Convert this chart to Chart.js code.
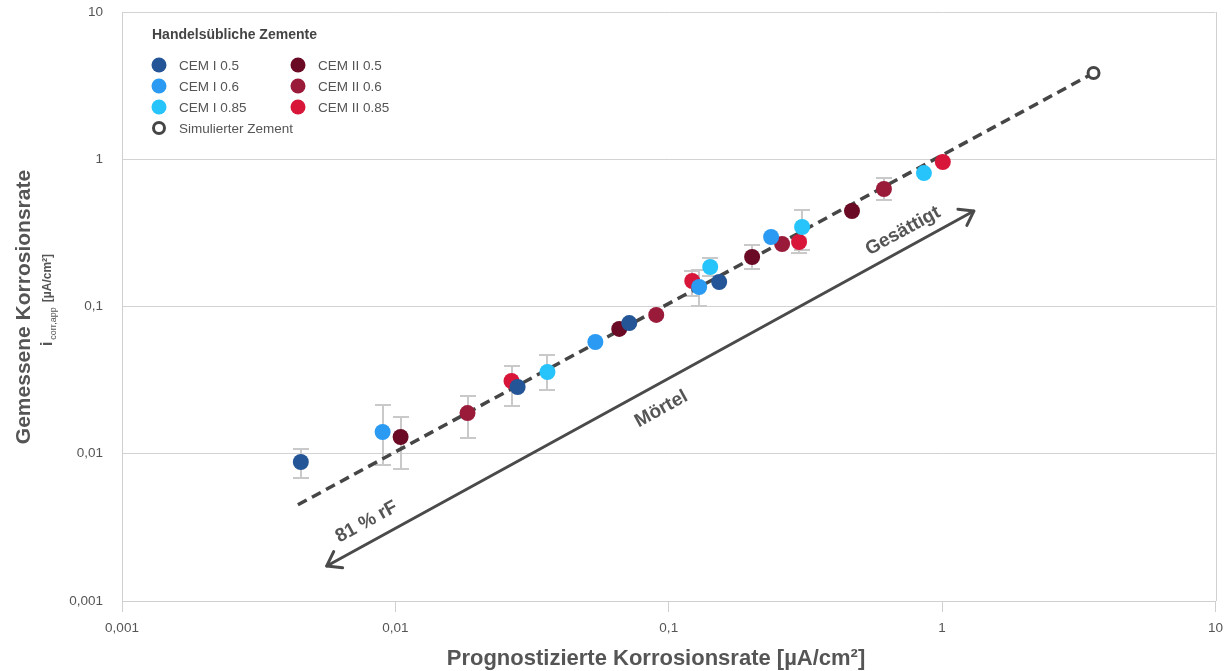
<!DOCTYPE html>
<html><head><meta charset="utf-8">
<script src="https://cdn.jsdelivr.net/npm/chart.js@4/dist/chart.umd.min.js"></script>
<style>html,body{margin:0;padding:0;background:#fff}#wrap{width:1224px;height:671px}</style>
</head><body><div id="wrap"><canvas id="c" width="1224" height="671"></canvas></div>
<script>
// ---------- data ----------
const tickValues = [0.001, 0.01, 0.1, 1, 10];
const tickLabels = ['0,001', '0,01', '0,1', '1', '10'];

const legendTitle = 'Handelsübliche Zemente';
const seriesNames = ['CEM I 0.5', 'CEM I 0.6', 'CEM I 0.85', 'CEM II 0.5', 'CEM II 0.6', 'CEM II 0.85'];
const simulatedName = 'Simulierter Zement';

const cemI05X = [0.00451, 0.0280, 0.0717, 0.1529];
const cemI05Y = [0.00879, 0.0284, 0.0772, 0.1467];
const cemI05Lo = [0.00685, null, null, null];
const cemI05Hi = [0.01077, null, null, null];

const cemI06X = [0.00898, 0.0539, 0.1292, 0.2368];
const cemI06Y = [0.01405, 0.0574, 0.1357, 0.2965];
const cemI06Lo = [0.00839, null, 0.1008, null];
const cemI06Hi = [0.02144, null, 0.1769, null];

const cemI085X = [0.0360, 0.1418, 0.3074, 0.858];
const cemI085Y = [0.0359, 0.1855, 0.3467, 0.806];
const cemI085Lo = [0.0271, 0.1611, 0.2418, null];
const cemI085Hi = [0.0468, 0.2135, 0.452, null];

const cemII05X = [0.01045, 0.0659, 0.2018, 0.468];
const cemII05Y = [0.0130, 0.0704, 0.2169, 0.4453];
const cemII05Lo = [0.00788, null, 0.1798, null];
const cemII05Hi = [0.0178, null, 0.2616, null];

const cemII06X = [0.01836, 0.0900, 0.2598, 0.6126];
const cemII06Y = [0.0189, 0.0876, 0.2657, 0.628];
const cemII06Lo = [0.01279, null, null, 0.5288];
const cemII06Hi = [0.02467, null, null, 0.7459];

const cemII085X = [0.0266, 0.1219, 0.2997, 1.006];
const cemII085Y = [0.0312, 0.149, 0.2742, 0.958];
const cemII085Lo = [0.0211, 0.118, 0.2308, null];
const cemII085Hi = [0.0394, 0.1742, 0.29, null];

const simulatedX = [3.58];
const simulatedY = [3.85];

const trendX = [0.0044, 3.58];
const trendY = [0.0045, 3.85];

// annotation arrow (data coordinates) and labels
const arrowFrom = [0.00561, 0.00173];
const arrowTo = [1.306, 0.445];
const noteTexts = ['81 % rF', 'Mörtel', 'Gesättigt'];
const noteX = [0.00785, 0.0939, 0.719];
const noteY = [0.00344, 0.0201, 0.3256];

const xTitle = 'Prognostizierte Korrosionsrate [µA/cm²]';
const yTitle = 'Gemessene Korrosionsrate';
const yUnitMain = 'i';
const yUnitSub = 'corr,app';
const yUnitTail = '[µA/cm²]';

// ---------- styles ----------
const seriesColors = ['#235597', '#2a9af2', '#27c4fc', '#6a0a24', '#9a1a3a', '#d8163a'];
const FONT = '"Liberation Sans", Arial, Helvetica, sans-serif';
const TXT = '#555555';

const seriesX = [cemI05X, cemI06X, cemI085X, cemII05X, cemII06X, cemII085X];
const seriesY = [cemI05Y, cemI06Y, cemI085Y, cemII05Y, cemII06Y, cemII085Y];
const seriesLo = [cemI05Lo, cemI06Lo, cemI085Lo, cemII05Lo, cemII06Lo, cemII085Lo];
const seriesHi = [cemI05Hi, cemI06Hi, cemI085Hi, cemII05Hi, cemII06Hi, cemII085Hi];

function pts(xs, ys) { return xs.map((x, i) => ({ x: x, y: ys[i] })); }

const datasets = seriesNames.map((n, i) => ({
  type: 'scatter',
  label: n,
  data: pts(seriesX[i], seriesY[i]),
  backgroundColor: seriesColors[i],
  borderWidth: 0,
  pointRadius: 8,
  pointHoverRadius: 8,
  order: 1
}));
datasets.push({
  type: 'line', label: 'trend', data: pts(trendX, trendY),
  borderColor: '#464646', borderWidth: 3.5, borderDash: [10, 6],
  pointRadius: 0, fill: false, order: 10
});
datasets.push({
  type: 'scatter', label: simulatedName, data: pts(simulatedX, simulatedY),
  backgroundColor: '#ffffff', borderColor: '#464646', borderWidth: 3,
  pointRadius: 5.5, order: 0
});

function tickLabelFor(v) {
  const k = tickValues.findIndex(t => Math.abs(Math.log10(t) - Math.log10(v)) < 1e-6);
  return k >= 0 ? tickLabels[k] : '';
}

const errorBars = {
  id: 'errorBars',
  beforeDatasetsDraw(chart) {
    const ctx = chart.ctx, xs = chart.scales.x, ys = chart.scales.y;
    ctx.save();
    ctx.strokeStyle = '#c9c9c9';
    ctx.lineWidth = 2;
    seriesX.forEach((arr, s) => {
      arr.forEach((xv, i) => {
        const lo = seriesLo[s][i], hi = seriesHi[s][i];
        if (lo == null || hi == null) return;
        const px = Math.round(xs.getPixelForValue(xv));
        const p1 = ys.getPixelForValue(lo), p2 = ys.getPixelForValue(hi);
        ctx.beginPath();
        ctx.moveTo(px, p1); ctx.lineTo(px, p2);
        ctx.moveTo(px - 8, p1); ctx.lineTo(px + 8, p1);
        ctx.moveTo(px - 8, p2); ctx.lineTo(px + 8, p2);
        ctx.stroke();
      });
    });
    ctx.restore();
  }
};

const decor = {
  id: 'decor',
  afterDraw(chart) {
    const ctx = chart.ctx, xs = chart.scales.x, ys = chart.scales.y, ca = chart.chartArea;
    ctx.save();
    // right border
    ctx.strokeStyle = '#d0d0d0'; ctx.lineWidth = 1;
    ctx.beginPath(); ctx.moveTo(Math.round(ca.right) + 0.5, ca.top); ctx.lineTo(Math.round(ca.right) + 0.5, ca.bottom); ctx.stroke();

    // arrow
    const ax = xs.getPixelForValue(arrowFrom[0]), ay = ys.getPixelForValue(arrowFrom[1]);
    const bx = xs.getPixelForValue(arrowTo[0]), by = ys.getPixelForValue(arrowTo[1]);
    const ang = Math.atan2(by - ay, bx - ax);
    ctx.strokeStyle = '#4a4a4a'; ctx.lineWidth = 3; ctx.lineCap = 'round'; ctx.lineJoin = 'round';
    ctx.beginPath(); ctx.moveTo(ax, ay); ctx.lineTo(bx, by); ctx.stroke();
    const head = 16, spread = 0.62;
    function chevron(x, y, dir) {
      ctx.beginPath();
      ctx.moveTo(x - head * Math.cos(dir - spread), y - head * Math.sin(dir - spread));
      ctx.lineTo(x, y);
      ctx.lineTo(x - head * Math.cos(dir + spread), y - head * Math.sin(dir + spread));
      ctx.stroke();
    }
    chevron(bx, by, ang);
    chevron(ax, ay, ang + Math.PI);

    // notes
    ctx.fillStyle = TXT;
    ctx.font = 'bold 19px ' + FONT;
    ctx.textAlign = 'center'; ctx.textBaseline = 'middle';
    noteTexts.forEach((t, i) => {
      const px = xs.getPixelForValue(noteX[i]), py = ys.getPixelForValue(noteY[i]);
      ctx.save(); ctx.translate(px, py); ctx.rotate(ang); ctx.fillText(t, 0, 0); ctx.restore();
    });

    // legend
    ctx.textAlign = 'left';
    ctx.fillStyle = '#444';
    ctx.font = 'bold 14px ' + FONT;
    ctx.fillText(legendTitle, 152, 35);
    ctx.font = '13.5px ' + FONT;
    const rowsY = [65, 86, 107];
    seriesNames.forEach((n, i) => {
      const col = i < 3 ? 0 : 1, row = i % 3;
      const cx = col === 0 ? 159 : 298, cy = rowsY[row];
      ctx.fillStyle = seriesColors[i];
      ctx.beginPath(); ctx.arc(cx, cy, 7.5, 0, Math.PI * 2); ctx.fill();
      ctx.fillStyle = TXT;
      ctx.fillText(n, cx + 20, cy + 1);
    });
    ctx.strokeStyle = '#464646'; ctx.lineWidth = 3;
    ctx.beginPath(); ctx.arc(159, 128, 5.5, 0, Math.PI * 2); ctx.stroke();
    ctx.fillStyle = TXT;
    ctx.fillText(simulatedName, 179, 129);

    // x title
    ctx.textAlign = 'center';
    ctx.fillStyle = TXT;
    ctx.font = 'bold 22px ' + FONT;
    ctx.fillText(xTitle, 656, 659);

    // y title
    ctx.font = 'bold 21px ' + FONT;
    ctx.save();
    ctx.translate(24, 307); ctx.rotate(-Math.PI / 2);
    ctx.fillText(yTitle, 0, 0);
    ctx.restore();

    // y unit line
    ctx.save();
    ctx.translate(47, 300); ctx.rotate(-Math.PI / 2);
    ctx.textAlign = 'left'; ctx.textBaseline = 'alphabetic';
    ctx.font = 'bold 16px ' + FONT; const w1 = ctx.measureText(yUnitMain).width;
    ctx.font = '9px ' + FONT; const w2 = ctx.measureText(yUnitSub).width;
    ctx.font = 'bold 12px ' + FONT; const w3 = ctx.measureText(yUnitTail).width;
    const gap = 2, sp = 5;
    let x0 = -(w1 + gap + w2 + sp + w3) / 2;
    ctx.font = 'bold 16px ' + FONT; ctx.fillText(yUnitMain, x0, 5); x0 += w1 + gap;
    ctx.font = '9px ' + FONT; ctx.fillText(yUnitSub, x0, 9); x0 += w2 + sp;
    ctx.font = 'bold 12px ' + FONT; ctx.fillText(yUnitTail, x0, 4);
    ctx.restore();

    ctx.restore();
  }
};

new Chart(document.getElementById('c'), {
  data: { datasets: datasets },
  options: {
    responsive: false,
    animation: false,
    devicePixelRatio: 1,
    layout: { padding: { top: 12, right: 6, left: 0, bottom: 0 } },
    plugins: { legend: { display: false }, tooltip: { enabled: false } },
    scales: {
      x: {
        type: 'logarithmic', position: 'bottom', min: 0.001, max: 10,
        afterBuildTicks: s => { s.ticks = tickValues.map(v => ({ value: v })); },
        afterFit: s => { s.height = 70; s.paddingLeft = 0; s.paddingRight = 0; },
        ticks: { autoSkip: false, maxRotation: 0, color: TXT, font: { family: FONT, size: 13.5 }, padding: 8, callback: v => tickLabelFor(v) },
        grid: { drawOnChartArea: false, drawTicks: true, tickLength: 11, color: '#cfcfcf' },
        border: { color: '#cfcfcf', width: 1 }
      },
      y: {
        type: 'logarithmic', position: 'left', min: 0.001, max: 10,
        afterBuildTicks: s => { s.ticks = tickValues.map(v => ({ value: v })); },
        afterFit: s => { s.width = 122; s.paddingTop = 0; s.paddingBottom = 0; },
        ticks: { autoSkip: false, color: TXT, font: { family: FONT, size: 13.5 }, padding: 19, callback: v => tickLabelFor(v) },
        grid: { drawTicks: false, color: '#d3d3d3' },
        border: { color: '#cfcfcf', width: 1 }
      }
    }
  },
  plugins: [errorBars, decor]
});
</script></body></html>
